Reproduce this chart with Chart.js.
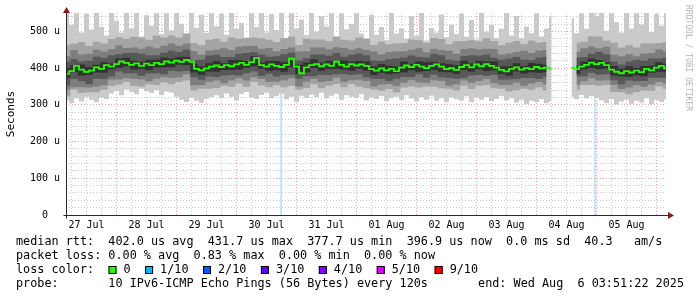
<!DOCTYPE html>
<html lang="en">
<head>
<meta charset="UTF-8">
<title>Smokeping - IPv6 ICMP</title>
<script src="https://cdn.jsdelivr.net/npm/chart.js@4.4.1/dist/chart.umd.min.js"></script>
<style>
  html, body { margin: 0; padding: 0; background: #fff; }
  canvas { display: block; }
</style>
</head>
<body>
<canvas id="smoke" width="697" height="297"></canvas>
<script>
// x axis is hours since 27 Jul 00:00, graph ends Wed Aug 6 03:51
const startHour = 3.8;
const endHour = 243.8;
const yMax = 550;
const dayLabels = ['27 Jul', '28 Jul', '29 Jul', '30 Jul', '31 Jul', '01 Aug', '02 Aug', '03 Aug', '04 Aug', '05 Aug'];
const lossTimes = [89.8, 215.4];

// median rtt in us, one value every 2h from 27 Jul 04:00
const median = [
  384,392,406,396,390,393,402,398,408,404,
  411,418,414,409,413,406,412,408,414,411,
  418,415,420,417,422,418,398,394,399,404,
  407,403,408,405,410,414,409,416,428,408,
  404,410,406,403,409,426,404,386,402,408,
  411,405,410,406,418,409,404,411,407,410,
  406,397,393,399,394,398,392,401,407,403,
  409,404,400,406,410,404,397,400,395,403,
  408,402,410,405,411,406,401,395,391,398,
  402,396,400,397,403,399,401,398,null,null,
  null,401,397,404,409,415,411,414,408,396,
  390,386,392,388,393,389,398,394,401,406,
  399
];

// slowest ping (us), every 2h
const ping10 = [
  552,518,560,497,548,505,556,512,489,558,
  529,497,553,508,560,486,544,515,557,492,
  549,503,561,521,488,552,510,545,496,559,
  514,548,491,556,507,523,483,551,512,558,
  497,547,504,553,481,560,508,532,490,556,
  499,542,513,561,487,549,506,520,557,494,
  482,545,491,512,476,553,494,508,480,541,
  489,550,475,509,497,546,484,518,493,548,
  485,531,478,556,499,518,482,507,552,489,
  542,481,513,495,549,486,508,540,null,null,
  null,536,495,549,507,558,541,553,502,561,
  525,497,557,508,550,519,556,498,547,515,
  552
];

// fastest ping (us), every 2h
const ping1 = [
  312,305,318,309,322,314,307,320,316,331,
  338,326,342,335,329,344,337,332,340,327,
  336,333,322,314,308,319,311,305,316,321,
  326,318,331,322,312,329,335,320,316,327,
  333,318,324,330,315,322,308,325,319,328,
  321,333,317,325,330,314,326,322,319,329,
  312,320,316,324,310,318,322,313,326,317,
  309,321,314,325,311,318,307,320,315,312,
  323,308,319,314,321,310,316,324,312,318,
  306,314,302,311,308,315,304,310,null,null,
  null,322,315,327,318,324,320,312,305,316,
  301,309,314,303,311,306,318,302,313,308,
  315
];

// inner pings (us), every 3h from 27 Jul 04:00
const ping9 = [
  462,467,471,461,472,467,479,484,480,485,
  483,477,488,483,489,483,494,468,462,477,
  480,472,483,480,482,483,481,477,471,481,
  486,463,480,478,478,473,485,477,475,483,
  479,463,472,465,467,468,478,476,468,482,
  479,465,473,474,476,473,481,474,462,469,
  474,465,475,470,472,null,null,null,470,472,
  487,486,475,469,456,462,456,467,467,468,
  471
];
const ping8 = [
  432,449,437,439,450,445,451,462,455,456,
  453,459,454,461,467,461,466,446,437,448,
  450,454,449,458,460,461,453,455,446,452,
  456,445,446,456,456,451,457,455,450,454,
  449,445,438,443,445,446,450,454,443,453,
  449,447,439,452,454,451,453,452,437,440,
  444,447,441,448,450,null,null,null,444,454,
  459,454,458,436,432,438,432,440,441,451,
  446
];
const ping7 = [
  418,425,418,420,431,428,435,438,441,442,
  439,435,435,442,448,444,450,422,423,434,
  436,430,430,439,441,444,437,431,432,438,
  442,421,427,437,437,434,441,431,436,440,
  435,421,419,424,426,429,434,430,429,439,
  435,423,420,433,435,434,437,428,423,426,
  430,423,422,429,431,null,null,null,429,430,
  439,444,438,418,410,418,422,420,426,426,
  428
];
const ping6 = [
  401,408,410,403,409,416,413,426,428,420,
  417,423,423,429,426,430,431,412,405,413,
  419,413,422,422,419,432,415,419,419,416,
  420,409,415,424,415,420,422,421,418,419,
  418,404,411,407,404,417,412,418,416,417,
  413,411,408,420,413,420,418,418,405,405,
  413,406,414,412,409,null,null,null,407,418,
  426,422,416,406,398,405,400,406,407,416,
  412
];
const ping5 = [
  374,389,379,382,388,387,397,401,404,396,
  398,394,402,402,402,409,408,388,382,391,
  390,395,395,396,401,405,398,393,394,390,
  402,384,389,400,393,398,398,396,393,398,
  393,381,387,383,385,389,394,390,392,395,
  390,389,384,395,390,397,392,394,384,379,
  391,385,389,387,389,null,null,null,384,396,
  400,397,399,380,377,376,380,378,387,390,
  389
];
const ping4 = [
  353,370,364,356,371,370,377,391,386,385,
  379,385,386,383,393,391,392,375,368,377,
  376,380,381,380,386,391,379,384,377,381,
  382,371,378,378,382,381,383,384,381,383,
  375,371,370,365,371,376,376,383,374,382,
  375,373,371,374,380,381,379,381,368,369,
  370,373,373,370,376,null,null,null,377,378,
  387,382,383,367,356,366,364,365,374,374,
  374
];
const ping3 = [
  342,348,348,347,350,353,368,369,372,370,
  369,364,371,375,373,375,383,353,354,362,
  366,359,366,372,366,375,370,362,363,366,
  372,350,363,370,362,365,374,362,367,368,
  365,350,355,357,351,360,367,361,360,367,
  365,352,356,366,360,365,370,359,354,354,
  360,352,358,362,356,null,null,null,355,364,
  372,366,367,354,343,347,353,349,355,362,
  359
];
const ping2 = [
  323,341,332,334,334,341,351,355,362,352,
  349,356,354,361,356,362,366,339,344,344,
  346,351,349,358,349,362,353,348,353,348,
  352,342,346,356,345,352,357,348,357,350,
  345,342,338,343,334,347,350,347,350,349,
  345,344,339,352,343,352,353,345,344,336,
  340,344,341,348,339,null,null,null,341,354,
  354,352,354,335,334,329,335,339,338,350,
  344
];

const lossLabels = ['0', '1/10', '2/10', '3/10', '4/10', '5/10', '9/10'];
const lossColors = ['#26ff00', '#00b8ff', '#0059ff', '#5e00ff', '#7e00ff', '#dd00ff', '#ff0000'];

const MONO = "'DejaVu Sans Mono', monospace";
const majorGrid = 'rgba(230,90,90,0.55)';
const minorGrid = 'rgba(150,150,150,0.5)';

function toPoints(values, firstHour, step) {
    return values.map((v, i) => ({ x: firstHour + step * i, y: v }));
}

function band(values, step, color, target) {
    return {
        data: toPoints(values, 4, step),
        borderWidth: 0,
        borderColor: 'transparent',
        backgroundColor: color,
        pointRadius: 0,
        stepped: 'middle',
        fill: target === undefined ? false : target
    };
}

// smokeping draws the median on top, then the bands from the inside out
const datasets = [
    {
        data: toPoints(median, 4, 2),
        borderColor: lossColors[0],
        borderWidth: 1.8,
        pointRadius: 0,
        stepped: 'middle',
        fill: false
    },
    band(ping6, 3, '#323232', 2),
    band(ping5, 3),
    band(ping7, 3, '#585858', 4),
    band(ping4, 3),
    band(ping8, 3, '#7e7e7e', 6),
    band(ping3, 3),
    band(ping9, 3, '#a4a4a4', 8),
    band(ping2, 3),
    band(ping10, 2, '#cacaca', 10),
    band(ping1, 2)
];

lossTimes.forEach(t => {
    datasets.push({
        data: [{ x: t, y: 0 }, { x: t, y: yMax }],
        borderColor: '#8fd3f5',
        borderWidth: 1,
        pointRadius: 0,
        fill: false
    });
});

// axes, arrows and the rrdtool style legend below the graph
const rrdText = {
    id: 'rrdText',
    afterDraw(chart) {
        const ctx = chart.ctx;
        const a = chart.chartArea;
        const ax = Math.round(a.left) + 0.5;
        const ay = Math.round(a.bottom) + 0.5;
        ctx.save();

        ctx.strokeStyle = '#2a2a2a';
        ctx.lineWidth = 1;
        ctx.beginPath();
        ctx.moveTo(ax, ay + 3);
        ctx.lineTo(ax, a.top - 3);
        ctx.moveTo(ax - 3, ay);
        ctx.lineTo(a.right + 3, ay);
        ctx.stroke();

        ctx.fillStyle = '#7f1f1f';
        ctx.beginPath();
        ctx.moveTo(ax - 3.5, 13);
        ctx.lineTo(ax + 3.5, 13);
        ctx.lineTo(ax, 7);
        ctx.closePath();
        ctx.fill();
        ctx.beginPath();
        ctx.moveTo(a.right + 2, ay - 3.5);
        ctx.lineTo(a.right + 2, ay + 3.5);
        ctx.lineTo(a.right + 8, ay);
        ctx.closePath();
        ctx.fill();

        // y axis title
        ctx.fillStyle = '#000';
        ctx.font = '11px ' + MONO;
        ctx.textAlign = 'center';
        ctx.textBaseline = 'middle';
        ctx.save();
        ctx.translate(11, (a.top + a.bottom) / 2);
        ctx.rotate(-Math.PI / 2);
        ctx.fillText('Seconds', 0, 0);
        ctx.restore();

        // watermark
        ctx.save();
        ctx.fillStyle = '#b4b4b4';
        ctx.font = '8px ' + MONO;
        ctx.textAlign = 'left';
        ctx.translate(688, 5);
        ctx.rotate(Math.PI / 2);
        ctx.fillText('RRDTOOL / TOBI OETIKER', 0, 0);
        ctx.restore();

        // legend
        ctx.font = '11.8px ' + MONO;
        ctx.textAlign = 'left';
        ctx.fillStyle = '#000';
        ctx.fillText('median rtt:  402.0 us avg  431.7 us max  377.7 us min  396.9 us now  0.0 ms sd  40.3   am/s', 16, 242);
        ctx.fillText('packet loss: 0.00 % avg  0.83 % max  0.00 % min  0.00 % now', 16, 256);
        ctx.fillText('loss color:', 16, 270);
        let x = 108.5;
        lossLabels.forEach((lab, i) => {
            ctx.fillStyle = lossColors[i];
            ctx.fillRect(x, 266, 8, 8);
            ctx.strokeStyle = '#000';
            ctx.strokeRect(x + 0.5, 266.5, 7, 7);
            ctx.fillStyle = '#000';
            ctx.fillText(lab, x + 15, 270);
            x += 15 + ctx.measureText(lab).width + 14.5;
        });
        ctx.fillText('probe:       10 IPv6-ICMP Echo Pings (56 Bytes) every 120s', 16, 284);
        ctx.textAlign = 'right';
        ctx.fillText('end: Wed Aug  6 03:51:22 2025', 684, 284);
        ctx.restore();
    }
};

new Chart(document.getElementById('smoke'), {
    type: 'line',
    data: { datasets: datasets },
    options: {
        responsive: false,
        devicePixelRatio: 1,
        animation: false,
        events: [],
        spanGaps: false,
        layout: { padding: { left: 0, right: 31, top: 13, bottom: 0 } },
        plugins: {
            legend: { display: false },
            tooltip: { enabled: false }
        },
        scales: {
            x: {
                type: 'linear',
                min: startHour,
                max: endHour,
                z: 1,
                afterFit: s => { s.height = 82; },
                afterBuildTicks: s => {
                    const ticks = [];
                    for (let h = 6; h < endHour; h += 6) ticks.push({ value: h });
                    s.ticks = ticks;
                },
                border: { display: false, dash: [1, 2] },
                grid: {
                    drawTicks: false,
                    color: c => (c.tick && c.tick.value % 24 === 0 ? majorGrid : minorGrid)
                },
                ticks: {
                    autoSkip: false,
                    maxRotation: 0,
                    padding: 4,
                    color: '#000',
                    font: { family: MONO, size: 10 },
                    callback: v => (v % 24 === 12 ? dayLabels[(v - 12) / 24] : '')
                }
            },
            y: {
                min: 0,
                max: yMax,
                z: 1,
                afterFit: s => { s.width = 66; },
                afterBuildTicks: s => {
                    const ticks = [];
                    for (let v = 0; v < yMax; v += 20) ticks.push({ value: v });
                    s.ticks = ticks;
                },
                border: { display: false, dash: [1, 2] },
                grid: {
                    drawTicks: false,
                    color: c => (c.tick && c.tick.value % 100 === 0 ? majorGrid : minorGrid)
                },
                ticks: {
                    autoSkip: false,
                    padding: 6,
                    color: '#000',
                    font: { family: MONO, size: 10 },
                    callback: v => (v % 100 ? '' : (v ? v + ' u' : '0  '))
                }
            }
        }
    },
    plugins: [rrdText]
});
</script>
</body>
</html>
